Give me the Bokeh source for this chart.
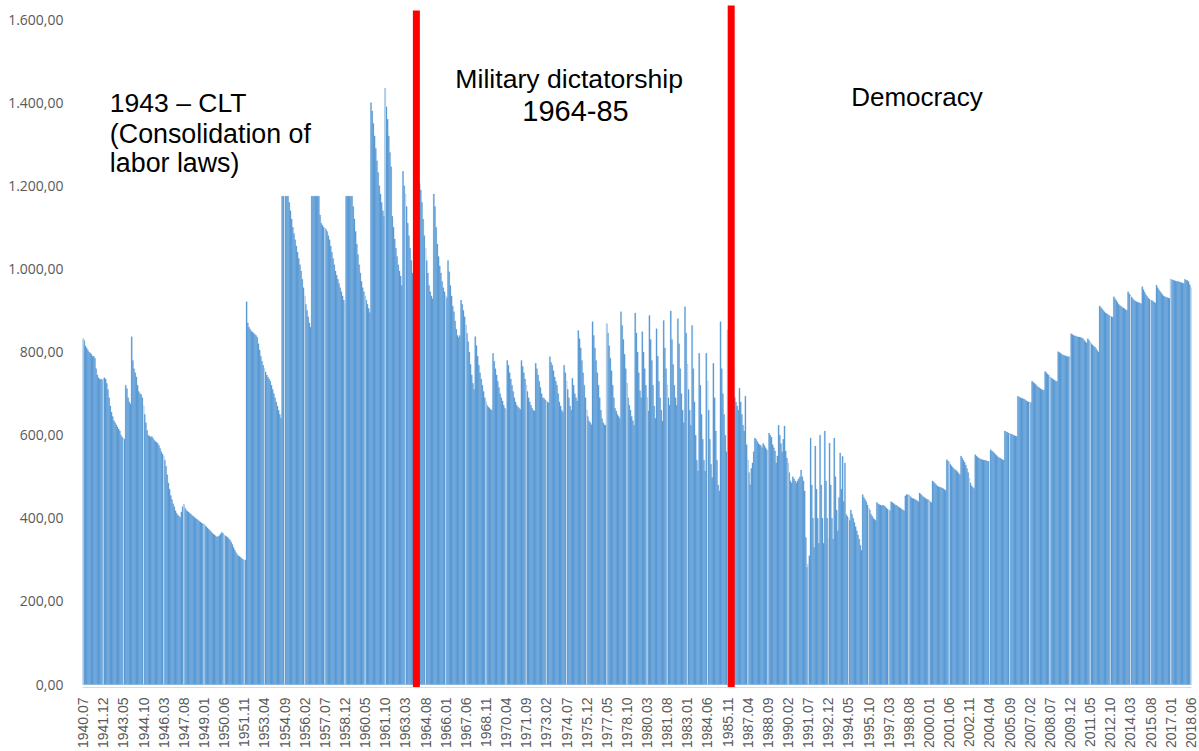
import math
from bokeh.plotting import figure
from bokeh.models import FixedTicker, Range1d, ColumnDataSource, Label
from bokeh.embed import file_html
from bokeh.resources import INLINE

v1940s = [
    832, 828, 815, 810, 805, 800,
    798, 795, 790, 790, 785, 760, 745, 738, 735, 735, 732, 735,
    738, 735, 725, 710, 690, 670, 655, 645, 635, 630, 625, 620,
    615, 610, 600, 595, 592, 590, 720, 712, 690, 680, 675, 837,
    780, 760, 750, 740, 720, 705, 700, 698, 690, 670, 650, 630,
    612, 600, 598, 595, 597, 593, 588, 585, 583, 580, 575, 568,
    560, 555, 548, 540, 525, 505, 485, 470, 455, 445, 435, 428,
    418, 412, 408, 405, 402, 415, 428, 433, 425, 420, 417, 415,
    412, 410, 407, 405, 402, 400, 398, 396, 393, 391, 389, 387,
    385, 382, 380, 377, 374, 371, 368, 365, 362, 360, 357, 355,
]
v1950s = [
    356, 358, 362, 366, 364, 360, 358, 356, 354, 351, 348, 343,
    337, 330, 324, 318, 313, 310, 308, 306, 303, 301, 299, 300,
    921, 870, 860, 855, 850, 848, 845, 842, 840, 835, 820, 805,
    790, 778, 768, 760, 752, 745, 740, 735, 730, 720, 710, 700,
    690, 680, 670, 660, 650, 641, 1175, 1175, 1175, 1175, 1175, 1175,
    1160, 1140, 1120, 1100, 1085, 1070, 1055, 1040, 1025, 1010, 995, 975,
    955, 935, 915, 900, 885, 870, 860, 1175, 1175, 1175, 1175, 1175,
    1175, 1175, 1130, 1110, 1105, 1100, 1098, 1095, 1090, 1080, 1070, 1055,
    1040, 1025, 1010, 995, 985, 975, 965, 955, 945, 935, 925, 915,
    1175, 1175, 1175, 1175, 1175, 1175, 1150, 1120, 1090, 1060, 1035, 1010,
]
v1960s = [
    990, 970, 955, 945, 935, 925, 915, 905, 895, 1400, 1380, 1350,
    1320, 1290, 1260, 1232, 1200, 1180, 1160, 1140, 1127, 1435, 1390, 1360,
    1320, 1280, 1246, 1127, 1100, 1072, 1050, 1030, 1010, 995, 983, 960,
    1235, 1200, 1180, 1150, 1110, 1080, 1050, 1020, 990, 965, 950, 945,
    940, 1215, 1205, 1190, 1160, 1120, 1080, 1050, 1020, 990, 960, 945,
    935, 928, 1180, 1150, 1100, 1060, 1030, 1007, 990, 970, 955, 945,
    935, 930, 1020, 993, 960, 935, 910, 897, 875, 855, 840, 835,
    840, 925, 915, 900, 885, 865, 845, 825, 800, 770, 745, 725,
    710, 837, 816, 790, 768, 750, 735, 720, 705, 690, 680, 672,
    668, 665, 662, 660, 797, 778, 760, 745, 730, 715, 700, 690,
]
v1970s = [
    682, 672, 665, 658, 780, 768, 750, 735, 720, 705, 690, 680,
    672, 668, 665, 662, 780, 765, 750, 735, 720, 705, 690, 680,
    672, 665, 660, 658, 773, 760, 745, 730, 715, 700, 690, 689,
    685, 682, 680, 678, 789, 775, 768, 755, 740, 730, 720, 700,
    680, 670, 660, 655, 768, 750, 730, 710, 690, 670, 660, 737,
    720, 700, 690, 682, 852, 832, 810, 780, 750, 720, 690, 660,
    645, 634, 630, 625, 873, 840, 810, 780, 750, 720, 690, 660,
    640, 630, 625, 624, 868, 846, 815, 785, 755, 720, 690, 665,
    658, 650, 645, 640, 897, 864, 830, 795, 760, 725, 690, 672,
    660, 645, 635, 624, 894, 846, 800, 750, 707, 690, 849, 800,
]
v1980s = [
    760, 720, 690, 658, 888, 830, 780, 720, 670, 640, 856, 790,
    730, 690, 660, 634, 876, 810, 760, 720, 690, 672, 899, 830,
    770, 720, 690, 672, 880, 820, 760, 700, 660, 630, 909, 846,
    770, 710, 660, 624, 864, 760, 680, 600, 540, 514, 797, 720,
    650, 590, 540, 514, 797, 730, 660, 590, 530, 498, 773, 690,
    610, 540, 480, 466, 873, 760, 700, 650, 600, 560, 852, 760,
    720, 700, 700, 695, 690, 680, 670, 660, 713, 680, 650, 624,
    610, 694, 577, 540, 510, 481, 520, 533, 560, 593, 590, 585,
    580, 577, 575, 570, 580, 575, 570, 565, 560, 605, 600, 595,
    577, 570, 562, 533, 550, 624, 600, 580, 560, 590, 622, 562,
]
v1990s = [
    545, 533, 510, 490, 485, 500, 495, 490, 485, 490, 495, 500,
    516, 500, 490, 466, 354, 282, 290, 310, 593, 480, 400, 330,
    574, 470, 400, 340, 600, 480, 400, 340, 610, 490, 400, 350,
    581, 480, 400, 350, 593, 500, 420, 370, 450, 557, 470, 549,
    440, 533, 409, 405, 400, 395, 420, 410, 400, 390, 380, 370,
    360, 350, 335, 323, 457, 450, 445, 440, 432, 425, 420, 410,
    405, 400, 397, 395, 438, 435, 433, 432, 430, 432, 430, 428,
    425, 422, 420, 418, 440, 438, 436, 433, 432, 430, 428, 426,
    424, 422, 420, 418, 454, 457, 457, 456, 453, 450, 448, 447,
    446, 444, 442, 440, 461, 458, 455, 452, 450, 448, 446, 445,
]
v2000s = [
    443, 440, 438, 490, 487, 484, 481, 478, 476, 475, 474, 473,
    471, 469, 467, 541, 538, 535, 530, 526, 522, 519, 517, 515,
    512, 508, 505, 550, 545, 540, 535, 528, 520, 510, 495, 485,
    478, 474, 472, 553, 550, 547, 545, 543, 542, 541, 540, 540,
    539, 538, 537, 536, 565, 562, 560, 557, 554, 551, 548, 546,
    545, 543, 541, 540, 610, 608, 607, 605, 604, 603, 602, 600,
    599, 598, 597, 694, 692, 690, 689, 688, 687, 685, 683, 681,
    680, 679, 678, 730, 727, 725, 722, 719, 716, 714, 712, 710,
    709, 708, 753, 750, 747, 744, 740, 738, 736, 734, 732, 730,
    729, 801, 799, 797, 795, 793, 792, 791, 790, 789, 789, 788,
]
v2010s = [
    844, 842, 840, 839, 838, 837, 836, 836, 835, 834, 832, 828,
    825, 822, 832, 828, 824, 820, 817, 814, 812, 808, 804, 800,
    911, 907, 904, 900, 897, 894, 892, 890, 888, 886, 885, 884,
    933, 928, 924, 920, 915, 912, 910, 908, 906, 904, 902, 900,
    945, 940, 936, 932, 928, 925, 923, 921, 920, 919, 918, 916,
    957, 950, 944, 938, 934, 930, 927, 925, 924, 922, 920, 918,
    961, 955, 950, 946, 942, 938, 935, 933, 932, 931, 930, 929,
    975, 974, 973, 972, 971, 970, 970, 969, 968, 967, 966, 965,
    975, 973, 972, 970, 962, 955,
]

tick_labels = [
    "1940.07", "1941.12", "1943.05", "1944.10", "1946.03", "1947.08", "1949.01",
    "1950.06", "1951.11", "1953.04", "1954.09", "1956.02", "1957.07", "1958.12",
    "1960.05", "1961.10", "1963.03", "1964.08", "1966.01", "1967.06", "1968.11",
    "1970.04", "1971.09", "1973.02", "1974.07", "1975.12", "1977.05", "1978.10",
    "1980.03", "1981.08", "1983.01", "1984.06", "1985.11", "1987.04", "1988.09",
    "1990.02", "1991.07", "1992.12", "1994.05", "1995.10", "1997.03", "1998.08",
    "2000.01", "2001.06", "2002.11", "2004.04", "2005.09", "2007.02", "2008.07",
    "2009.12", "2011.05", "2012.10", "2014.03", "2015.08", "2017.01", "2018.06",
]
y_ticks = [0, 200, 400, 600, 800, 1000, 1200, 1400, 1600]
y_tick_labels = ["0,00", "200,00", "400,00", "600,00", "800,00",
                 "1.000,00", "1.200,00", "1.400,00", "1.600,00"]

values = v1940s + v1950s + v1960s + v1970s + v1980s + v1990s + v2000s + v2010s
assert len(values) == 936, len(values)
idx = list(range(len(values)))
tick_idx = [17 * k for k in range(len(tick_labels))]

src = ColumnDataSource(dict(x=idx, top=values))

p = figure(width=1199, height=751, output_backend="svg", toolbar_location=None,
           x_range=Range1d(-0.5, 935.5), y_range=Range1d(-7, 1641),
           min_border_left=82, min_border_right=8, min_border_top=2,
           min_border_bottom=60)
p.outline_line_color = None
p.background_fill_color = "white"
p.border_fill_color = "white"
p.grid.grid_line_color = None

p.vbar(x="x", top="top", bottom=0, width=1.0, source=src,
       fill_color="#5b9bd5", line_color="#5b9bd5", line_width=0.25)

# light separators inside the bars at every category tick
sep_top = [values[t] for t in tick_idx]
p.segment(x0=tick_idx, y0=[0] * len(tick_idx), x1=tick_idx, y1=sep_top,
          line_color="#cddeed", line_width=1)

# period markers
p.segment(x0=[281.3, 547.0], y0=[-10, -10], x1=[281.3, 547.0], y1=[1622, 1634],
          line_color="#ff0000", line_width=7)

# axes
p.yaxis.ticker = FixedTicker(ticks=y_ticks)
p.yaxis.major_label_overrides = {t: l for t, l in zip(y_ticks, y_tick_labels)}
p.yaxis.axis_line_color = None
p.yaxis.major_tick_line_color = None
p.yaxis.minor_tick_line_color = None
p.yaxis.major_label_standoff = 13
p.yaxis.major_label_text_font = "Open Sans"
p.yaxis.major_label_text_font_size = "14px"
p.yaxis.major_label_text_color = "#595959"

p.xaxis.ticker = FixedTicker(ticks=tick_idx)
p.xaxis.major_label_overrides = {t: l for t, l in zip(tick_idx, tick_labels)}
p.xaxis.major_label_orientation = math.pi / 2
p.xaxis.axis_line_color = "#d9d9d9"
p.xaxis.major_tick_line_color = None
p.xaxis.minor_tick_line_color = None
p.xaxis.major_label_standoff = 4
p.xaxis.major_label_text_font = "Liberation Sans"
p.xaxis.major_label_text_font_size = "14px"
p.xaxis.major_label_text_color = "#595959"

# annotations
notes = [
    (22.6, 1399, "1943 \u2013 CLT", "26.5px"),
    (22.6, 1325, "(Consolidation of", "26.8px"),
    (22.6, 1255, "labor laws)", "26.8px"),
    (314.2, 1456, "Military dictatorship", "26.6px"),
    (370.7, 1380, "1964-85", "29px"),
    (648.3, 1414, "Democracy", "26px"),
]
for x, y, t, fs in notes:
    p.add_layout(Label(x=x, y=y, text=t, text_font="Liberation Sans",
                       text_font_size=fs, text_color="#000000",
                       text_baseline="alphabetic", text_align="left"))

open("out.html", "w").write(file_html(p, INLINE))
